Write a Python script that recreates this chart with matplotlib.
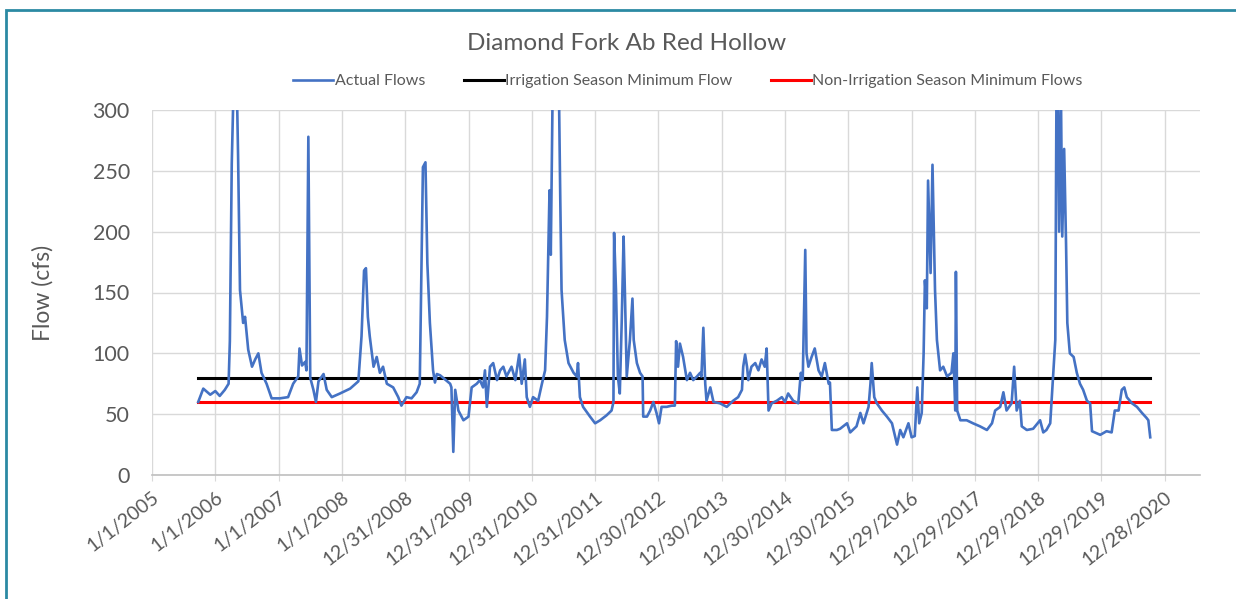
import datetime as dt
import matplotlib
matplotlib.use("Agg")
import matplotlib.pyplot as plt
import matplotlib.dates as mdates
from matplotlib.patches import Rectangle

plt.rcParams['font.family'] = ['Lato', 'DejaVu Sans']

# flow record: decimal year (365-day years from 1/1/2005) and cfs
flow_year = [
    2005.73, 2005.81, 2005.92, 2006.00, 2006.07, 2006.15, 2006.21, 2006.23, 2006.26, 2006.28,
    2006.31, 2006.34, 2006.36, 2006.39, 2006.44, 2006.47, 2006.52, 2006.58, 2006.63, 2006.68,
    2006.73, 2006.81, 2006.89, 2007.02, 2007.15, 2007.23, 2007.31, 2007.33, 2007.37, 2007.42,
    2007.44, 2007.47, 2007.50, 2007.55, 2007.59, 2007.63, 2007.71, 2007.76, 2007.84, 2007.97,
    2008.13, 2008.26, 2008.31, 2008.35, 2008.38, 2008.41, 2008.44, 2008.50, 2008.55, 2008.60,
    2008.65, 2008.71, 2008.81, 2008.89, 2008.94, 2009.02, 2009.10, 2009.18, 2009.23, 2009.28,
    2009.32, 2009.35, 2009.39, 2009.44, 2009.47, 2009.50, 2009.55, 2009.71, 2009.73, 2009.76,
    2009.79, 2009.84, 2009.92, 2010.00, 2010.05, 2010.13, 2010.18, 2010.23, 2010.26, 2010.29,
    2010.34, 2010.39, 2010.45, 2010.50, 2010.55, 2010.60, 2010.68, 2010.74, 2010.80, 2010.84,
    2010.89, 2010.92, 2010.97, 2011.02, 2011.10, 2011.16, 2011.21, 2011.24, 2011.28, 2011.30,
    2011.33, 2011.38, 2011.43, 2011.45, 2011.47, 2011.52, 2011.58, 2011.66, 2011.71, 2011.73,
    2011.76, 2011.81, 2011.92, 2012.00, 2012.08, 2012.18, 2012.26, 2012.29, 2012.30, 2012.33,
    2012.36, 2012.39, 2012.42, 2012.45, 2012.47, 2012.50, 2012.55, 2012.59, 2012.61, 2012.66,
    2012.71, 2012.75, 2012.76, 2012.82, 2012.87, 2012.92, 2012.97, 2013.01, 2013.05, 2013.13,
    2013.21, 2013.26, 2013.28, 2013.31, 2013.34, 2013.39, 2013.45, 2013.50, 2013.55, 2013.61,
    2013.66, 2013.68, 2013.71, 2013.74, 2013.76, 2013.82, 2013.87, 2013.97, 2014.08, 2014.18,
    2014.26, 2014.32, 2014.34, 2014.37, 2014.40, 2014.42, 2014.47, 2014.53, 2014.58, 2014.63,
    2014.68, 2014.71, 2014.74, 2014.79, 2014.87, 2014.95, 2015.00, 2015.05, 2015.13, 2015.21,
    2015.25, 2015.28, 2015.32, 2015.34, 2015.37, 2015.42, 2015.47, 2015.53, 2015.58, 2015.63,
    2015.69, 2015.71, 2015.74, 2015.82, 2015.87, 2015.98, 2016.03, 2016.13, 2016.19, 2016.24,
    2016.32, 2016.35, 2016.37, 2016.41, 2016.45, 2016.53, 2016.61, 2016.69, 2016.77, 2016.82,
    2016.87, 2016.95, 2017.00, 2017.05, 2017.09, 2017.12, 2017.16, 2017.19, 2017.21, 2017.24,
    2017.26, 2017.30, 2017.33, 2017.37, 2017.40, 2017.45, 2017.50, 2017.56, 2017.63, 2017.66,
    2017.69, 2017.70, 2017.72, 2017.77, 2017.87, 2017.97, 2018.08, 2018.19, 2018.27, 2018.32,
    2018.40, 2018.45, 2018.50, 2018.58, 2018.62, 2018.66, 2018.71, 2018.74, 2018.82, 2018.92,
    2019.03, 2019.08, 2019.13, 2019.19, 2019.24, 2019.27, 2019.29, 2019.31, 2019.33, 2019.36,
    2019.38, 2019.41, 2019.44, 2019.46, 2019.50, 2019.56, 2019.61, 2019.66, 2019.71, 2019.77,
    2019.82, 2019.85, 2019.98, 2020.08, 2020.16, 2020.21, 2020.27, 2020.32, 2020.36, 2020.40,
    2020.48, 2020.56, 2020.64, 2020.71, 2020.74, 2020.77,
]
flow_cfs = [
    60, 71, 66, 69, 65, 70, 75, 110, 256, 300,
    330, 320, 262, 152, 125, 130, 103, 89, 95, 100,
    84, 75, 63, 63, 64, 75, 81, 104, 90, 93,
    86, 278, 80, 70, 60, 77, 83, 70, 64, 67,
    71, 77, 114, 168, 170, 130, 114, 89, 97, 84,
    89, 75, 72, 64, 57, 64, 63, 68, 75, 253,
    257, 174, 125, 86, 76, 83, 82, 75, 72, 19,
    70, 53, 45, 48, 72, 75, 78, 72, 86, 56,
    89, 92, 78, 86, 89, 81, 89, 78, 99, 75,
    95, 64, 56, 64, 61, 75, 86, 130, 234, 181,
    320, 340, 310, 226, 152, 111, 92, 84, 81, 92,
    64, 56, 48, 42.5, 45, 49, 53, 60, 199, 152,
    81, 67, 125, 196, 152, 81, 111, 145, 111, 92,
    84, 81, 48, 48, 53, 60, 51, 42.5, 56, 56,
    57, 57, 110, 89, 108, 97, 78, 84, 78, 81,
    84, 81, 121, 75, 61, 72, 60, 59, 56, 61,
    64, 70, 89, 99, 89, 78, 89, 92, 86, 95,
    89, 104, 53, 59, 61, 64, 60, 67, 61, 59,
    84, 78, 185, 100, 89, 97, 104, 86, 81, 92,
    75, 76, 37, 37, 38, 42.5, 35, 40, 51, 42.5,
    56, 75, 92, 64, 59, 53, 48, 42.5, 25, 37,
    31, 42.5, 31, 32, 72, 42.5, 51, 100, 160, 137,
    242, 166, 255, 152, 111, 86, 89, 81, 84, 100,
    53, 167, 53, 45, 45, 42.5, 40, 37, 42.5, 53,
    56, 68, 53, 59, 89, 53, 61, 40, 37, 38,
    45, 35, 37, 42.5, 86, 111, 330, 320, 200, 310,
    196, 268, 190, 125, 100, 97, 84, 75, 70, 61,
    59, 36, 33, 36, 35, 53, 53, 70, 72, 64,
    59, 56, 51, 47, 45, 31,
]

min_flow_years = [2005.73, 2020.77]
irrigation_min = [80, 80]
non_irrigation_min = [60, 60]

tick_labels = ['1/1/2005', '1/1/2006', '1/1/2007', '1/1/2008', '12/31/2008', '12/31/2009',
               '12/31/2010', '12/31/2011', '12/30/2012', '12/30/2013', '12/30/2014',
               '12/30/2015', '12/29/2016', '12/29/2017', '12/29/2018', '12/29/2019',
               '12/28/2020']

base = mdates.date2num(dt.datetime(2005, 1, 1))


def to_num(years):
    return [base + (y - 2005) * 365 for y in years]


fig = plt.figure(figsize=(12.36, 5.99), dpi=100)
ax = fig.add_axes([152 / 1236, 1 - 475 / 599, (1200 - 152) / 1236, (475 - 110) / 599])

ax.plot(to_num(min_flow_years), irrigation_min, color='black', lw=2.2, label='Irrigation Season Minimum Flow', zorder=3)
ax.plot(to_num(min_flow_years), non_irrigation_min, color='#ff0000', lw=2.2, label='Non-Irrigation Season Minimum Flows', zorder=3)
ax.plot(to_num(flow_year), flow_cfs, color='#4472c4', lw=1.9, label='Actual Flows', zorder=4)

ticks = [mdates.date2num(dt.datetime.strptime(t, '%m/%d/%Y')) for t in tick_labels]
ax.set_xticks(ticks)
ax.set_xticklabels(tick_labels, rotation=38, ha='right', rotation_mode='anchor')
ax.set_xlim(base, base + (1200 - 152) / 63.3 * 365)
ax.set_ylim(0, 300)
ax.set_yticks(range(0, 301, 50))

ax.grid(True, color='#d9d9d9', lw=1)
ax.set_axisbelow(True)
for s in ['top', 'right', 'left']:
    ax.spines[s].set_visible(False)
ax.spines['bottom'].set_color('#bfbfbf')
ax.spines['bottom'].set_linewidth(1.2)
ax.tick_params(axis='x', colors='#595959', labelsize=14, length=4, color='#d9d9d9', pad=6)
ax.tick_params(axis='y', colors='#595959', labelsize=15.5, length=0, pad=16)
ax.set_ylabel('Flow (cfs)', fontsize=16.5, color='#595959')
ax.yaxis.set_label_coords(-0.094, 0.5)

fig.text(627 / 1236, 1 - 44 / 599, 'Diamond Fork Ab Red Hollow', ha='center', va='center',
         fontsize=17.5, color='#595959')

h, l = ax.get_legend_handles_labels()
order = [2, 0, 1]
fig.legend([h[i] for i in order], [l[i] for i in order], loc='center',
           bbox_to_anchor=(688 / 1236, 1 - 81 / 599), ncol=3, frameon=False,
           fontsize=11.5, labelcolor='#595959', handlelength=2.5, handletextpad=0.1,
           columnspacing=2.4)

fig.patches.append(Rectangle((6 / 1236, -0.1), 1.2, 1 - 10 / 599 + 0.1, transform=fig.transFigure,
                             fill=False, edgecolor='#2b8aa3', lw=2))

fig.savefig('out.png', dpi=100)
